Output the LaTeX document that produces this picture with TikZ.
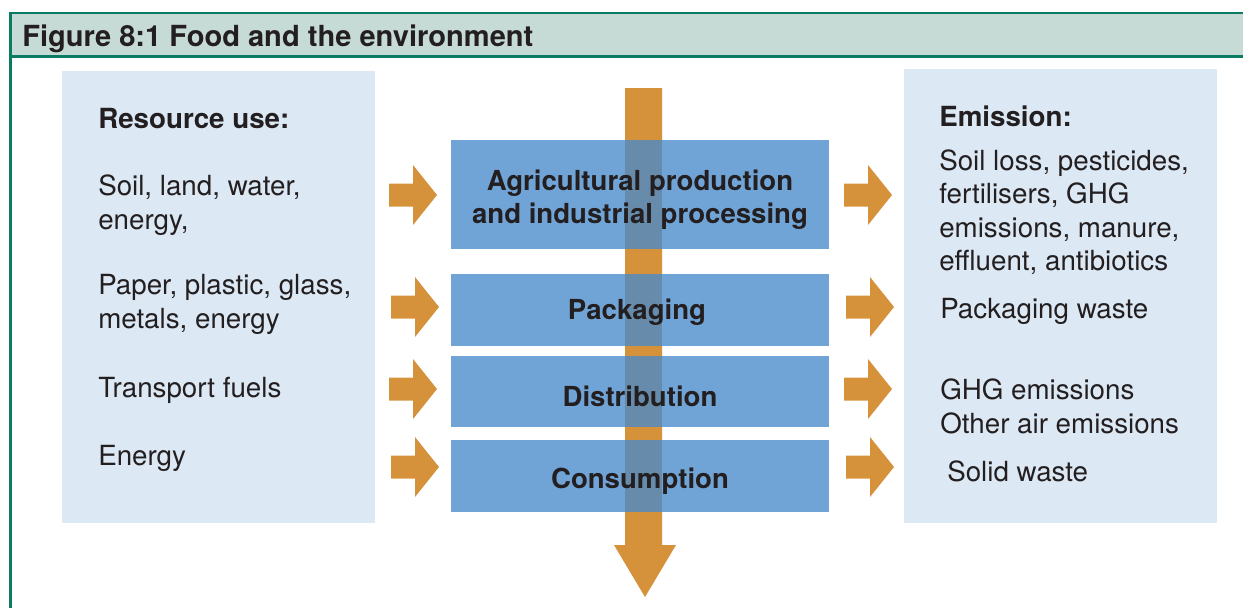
\documentclass[tikz,border=0pt]{standalone}
\usepackage{fontspec}
\setmainfont{TeX Gyre Heros}
\definecolor{framegreen}{HTML}{0B7B62}
\definecolor{bandfill}{HTML}{C6DBD6}
\definecolor{panelfill}{HTML}{DCE8F4}
\definecolor{boxfill}{HTML}{71A4D6}
\definecolor{overlapfill}{HTML}{678CAB}
\definecolor{arroworange}{HTML}{D6923A}
\definecolor{textdark}{HTML}{231F20}
\tikzset{
  panel/.style={fill=panelfill, draw=none},
  stagebox/.style={fill=boxfill, draw=none},
  bodytext/.style={inner sep=0pt, anchor=base west, align=left, text=textdark,
    font=\fontsize{20.8}{25.5}\selectfont},
  headtext/.style={bodytext, font=\fontsize{20.8}{25.5}\selectfont\bfseries},
  stagetext/.style={inner sep=0pt, anchor=base, align=center, text=textdark,
    font=\fontsize{20.7}{24.75}\selectfont\bfseries},
  frameline/.style={draw=framegreen, line width=1.9pt},
  sidearrow/.pic={\fill[arroworange] (-24,-11.5) -- (0,-11.5) -- (0,-30) -- (24,0) -- (0,30) -- (0,11.5) -- (-24,11.5) -- cycle;}
}
\begin{document}
\begin{tikzpicture}[x=0.75pt, y=-0.75pt]
\useasboundingbox (0,0) rectangle (1243,608);
% header band
\fill[bandfill] (10,13) rectangle (1243,56);
\draw[frameline] (9,13) -- (1243,13);
\draw[frameline] (9,56.5) -- (1243,56.5);
\draw[frameline] (10.5,12) -- (10.5,608);
\node[headtext, font=\fontsize{21.8}{25}\selectfont\bfseries] (title) at (22,46) {Figure 8:1 Food and the environment};
% side panels
\node[panel, minimum width=313*0.75pt, minimum height=452*0.75pt, anchor=north west, inner sep=0pt] (leftpanel) at (62,71) {};
\node[panel, minimum width=313*0.75pt, minimum height=454*0.75pt, anchor=north west, inner sep=0pt] (rightpanel) at (904,69) {};
% central vertical arrow
\fill[arroworange] (625,88) -- (662,88) -- (662,545) -- (676,545) -- (645,597) -- (614,545) -- (625,545) -- cycle;
% stage boxes
\node[stagebox, minimum width=378*0.75pt, minimum height=109*0.75pt, anchor=north west, inner sep=0pt] (agri) at (451,140) {};
\node[stagebox, minimum width=378*0.75pt, minimum height=72*0.75pt, anchor=north west, inner sep=0pt] (pack) at (451,274) {};
\node[stagebox, minimum width=378*0.75pt, minimum height=71*0.75pt, anchor=north west, inner sep=0pt] (dist) at (451,356) {};
\node[stagebox, minimum width=378*0.75pt, minimum height=72*0.75pt, anchor=north west, inner sep=0pt] (cons) at (451,440) {};
% overlap of arrow shaft and boxes
\fill[overlapfill] (625,140) rectangle (662,249);
\fill[overlapfill] (625,274) rectangle (662,346);
\fill[overlapfill] (625,356) rectangle (662,427);
\fill[overlapfill] (625,440) rectangle (662,512);
% stage labels (base = last line)
\node[stagetext] (agrilabel) at (640,223) {Agricultural production\\and industrial processing};
\node[stagetext] (packlabel) at (637,319) {Packaging};
\node[stagetext] (distlabel) at (640,406) {Distribution};
\node[stagetext] (conslabel) at (640,488) {Consumption};
% side arrows
\pic at (413,195) {sidearrow};
\pic at (415,307) {sidearrow};
\pic at (413,389) {sidearrow};
\pic at (415,467) {sidearrow};
\pic at (868,195) {sidearrow};
\pic at (870,307) {sidearrow};
\pic at (868,389) {sidearrow};
\pic at (870,467) {sidearrow};
% left texts (base = last line)
\node[headtext] (reshead) at (98,128) {Resource use:};
\node[bodytext] (res1) at (98,229) {Soil, land, water,\\energy,};
\node[bodytext] (res2) at (98,328) {Paper, plastic, glass,\\metals, energy};
\node[bodytext] (res3) at (98,397) {Transport fuels};
\node[bodytext] (res4) at (98,465) {Energy};
% right texts
\node[headtext] (emhead) at (939,126) {Emission:};
\node[bodytext, font=\fontsize{20.8}{25.1}\selectfont] (em1) at (939,270.5) {Soil loss, pesticides,\\fertilisers, GHG\\emissions, manure,\\effluent, antibiotics};
\node[bodytext] (em2) at (940,318) {Packaging waste};
\node[bodytext] (em3) at (940,433) {GHG emissions\\Other air emissions};
\node[bodytext] (em4) at (947,481) {Solid waste};
\end{tikzpicture}
\end{document}
